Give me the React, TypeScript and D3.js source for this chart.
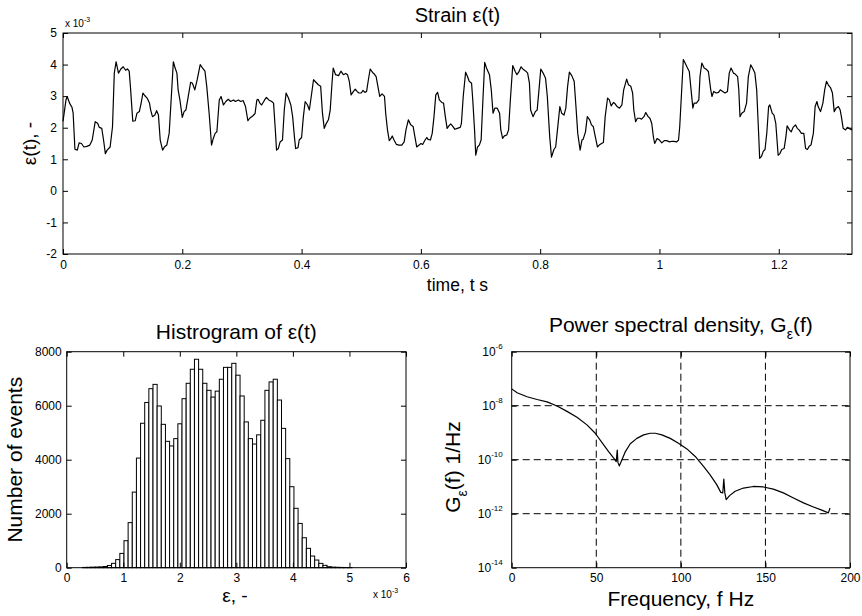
import React, { useEffect, useRef } from 'react';
import * as d3 from 'd3';

// strain signal, [time s, strain x 10^-3]
const strainSeries: [number, number][] = [
  [0, 2.20], [0.005, 2.88], [0.007, 2.99], [0.011, 2.78], [0.015, 2.65], [0.017, 2.46], [0.020, 1.32], [0.024, 1.29],
  [0.027, 1.52], [0.031, 1.50], [0.035, 1.39], [0.040, 1.41], [0.045, 1.45], [0.049, 1.61], [0.054, 2.19], [0.058, 2.14],
  [0.061, 2.01], [0.065, 1.98], [0.068, 1.61], [0.071, 1.18], [0.074, 1.29], [0.079, 1.39], [0.083, 2.03], [0.086, 3.73],
  [0.089, 4.09], [0.093, 3.73], [0.097, 3.86], [0.101, 3.93], [0.105, 3.82], [0.108, 3.86], [0.111, 3.79], [0.113, 3.31],
  [0.117, 2.21], [0.121, 2.22], [0.124, 2.46], [0.128, 2.51], [0.131, 2.78], [0.134, 3.10], [0.137, 3.02], [0.141, 2.94],
  [0.145, 2.78], [0.147, 2.56], [0.150, 2.35], [0.154, 2.40], [0.157, 2.54], [0.160, 2.40], [0.163, 1.61], [0.167, 1.29],
  [0.170, 1.39], [0.174, 1.45], [0.178, 1.82], [0.181, 2.78], [0.185, 4.09], [0.188, 3.89], [0.191, 3.73], [0.193, 3.20],
  [0.196, 2.88], [0.200, 2.33], [0.203, 2.51], [0.206, 2.56], [0.210, 2.99], [0.214, 3.44], [0.217, 3.41], [0.221, 3.20],
  [0.225, 3.52], [0.230, 4.00], [0.234, 3.89], [0.238, 3.79], [0.241, 3.31], [0.245, 2.46], [0.249, 1.45], [0.252, 1.66],
  [0.255, 1.82], [0.258, 1.87], [0.262, 2.88], [0.265, 2.99], [0.269, 2.72], [0.273, 2.83], [0.277, 2.90], [0.281, 2.83],
  [0.286, 2.88], [0.289, 2.83], [0.294, 2.88], [0.298, 2.83], [0.302, 2.86], [0.306, 2.67], [0.310, 2.22], [0.313, 2.30],
  [0.318, 2.37], [0.322, 2.45], [0.325, 2.88], [0.327, 2.90], [0.330, 2.78], [0.333, 2.72], [0.338, 2.88], [0.341, 2.96],
  [0.345, 2.88], [0.350, 2.83], [0.353, 2.78], [0.356, 1.93], [0.358, 1.29], [0.361, 1.34], [0.364, 1.55], [0.368, 1.61],
  [0.371, 2.56], [0.374, 3.10], [0.378, 2.94], [0.382, 2.72], [0.385, 2.35], [0.388, 1.71], [0.390, 1.34], [0.394, 1.37],
  [0.396, 1.61], [0.400, 1.69], [0.403, 2.35], [0.406, 2.83], [0.410, 2.72], [0.413, 2.56], [0.417, 3.10], [0.420, 3.52],
  [0.424, 3.44], [0.428, 3.36], [0.432, 3.31], [0.435, 2.46], [0.438, 1.98], [0.441, 2.12], [0.445, 2.25], [0.448, 2.56],
  [0.451, 3.41], [0.453, 3.89], [0.457, 3.68], [0.462, 3.65], [0.466, 3.79], [0.470, 3.68], [0.474, 3.72], [0.477, 3.68],
  [0.480, 3.47], [0.483, 3.04], [0.487, 3.15], [0.490, 3.22], [0.493, 3.15], [0.496, 3.10], [0.500, 3.10], [0.503, 3.18],
  [0.506, 3.12], [0.509, 3.15], [0.512, 3.52], [0.515, 3.86], [0.519, 3.75], [0.522, 3.70], [0.525, 3.62], [0.529, 3.20],
  [0.531, 2.99], [0.535, 3.07], [0.539, 2.99], [0.541, 2.46], [0.544, 1.93], [0.547, 1.59], [0.550, 1.66], [0.552, 1.74],
  [0.555, 1.61], [0.559, 1.47], [0.563, 1.45], [0.568, 1.45], [0.572, 1.55], [0.575, 1.93], [0.579, 2.25], [0.583, 2.09],
  [0.587, 2.04], [0.590, 1.71], [0.593, 1.39], [0.597, 1.45], [0.600, 1.50], [0.603, 1.47], [0.607, 1.61], [0.610, 1.69],
  [0.612, 1.63], [0.616, 1.61], [0.619, 1.82], [0.622, 2.35], [0.625, 3.04], [0.628, 3.12], [0.631, 2.88], [0.635, 2.80],
  [0.638, 2.78], [0.641, 2.35], [0.644, 1.98], [0.647, 2.06], [0.650, 2.12], [0.653, 2.06], [0.657, 1.95], [0.661, 1.98],
  [0.666, 2.01], [0.668, 2.14], [0.671, 2.99], [0.675, 3.76], [0.678, 3.63], [0.681, 3.47], [0.685, 3.41], [0.687, 2.88],
  [0.690, 1.93], [0.692, 1.13], [0.695, 1.39], [0.698, 1.45], [0.701, 1.61], [0.704, 2.88], [0.707, 4.07], [0.710, 3.89],
  [0.715, 3.68], [0.718, 3.20], [0.721, 2.46], [0.724, 2.62], [0.728, 2.62], [0.732, 2.46], [0.734, 1.93], [0.737, 1.66],
  [0.740, 1.74], [0.744, 1.77], [0.747, 1.93], [0.750, 2.88], [0.754, 3.97], [0.758, 3.79], [0.761, 3.68], [0.764, 3.76],
  [0.768, 3.93], [0.772, 3.84], [0.776, 3.79], [0.779, 3.73], [0.782, 3.41], [0.784, 2.56], [0.788, 2.35], [0.792, 2.51],
  [0.795, 2.56], [0.798, 3.20], [0.801, 3.86], [0.805, 3.73], [0.809, 3.57], [0.812, 2.99], [0.816, 1.71], [0.819, 1.07],
  [0.823, 1.31], [0.826, 1.39], [0.829, 1.93], [0.833, 2.67], [0.836, 2.46], [0.840, 2.40], [0.843, 2.62], [0.846, 3.31],
  [0.849, 3.76], [0.853, 3.65], [0.857, 3.47], [0.860, 2.67], [0.863, 1.82], [0.867, 1.29], [0.870, 1.61], [0.872, 1.63],
  [0.876, 1.87], [0.879, 2.35], [0.883, 2.25], [0.886, 2.09], [0.889, 2.04], [0.893, 1.66], [0.896, 1.39], [0.899, 1.45],
  [0.903, 1.50], [0.906, 1.53], [0.909, 2.35], [0.913, 2.94], [0.916, 2.88], [0.919, 2.69], [0.923, 2.80], [0.926, 2.75],
  [0.929, 2.67], [0.933, 2.62], [0.937, 2.72], [0.940, 3.20], [0.945, 3.54], [0.948, 3.36], [0.952, 3.31], [0.955, 3.10],
  [0.957, 2.56], [0.960, 2.19], [0.963, 2.30], [0.967, 2.30], [0.970, 2.27], [0.974, 2.35], [0.977, 2.48], [0.981, 2.35],
  [0.984, 2.30], [0.987, 2.14], [0.990, 1.69], [0.992, 1.50], [0.996, 1.66], [1.000, 1.61], [1.004, 1.52], [1.008, 1.59],
  [1.012, 1.59], [1.017, 1.55], [1.021, 1.57], [1.024, 1.57], [1.029, 1.55], [1.032, 1.61], [1.034, 2.04], [1.037, 3.10],
  [1.040, 4.16], [1.043, 4.05], [1.047, 3.89], [1.050, 3.78], [1.053, 3.20], [1.056, 2.62], [1.058, 2.78], [1.062, 2.78],
  [1.066, 2.88], [1.068, 3.63], [1.071, 4.05], [1.075, 3.89], [1.079, 3.84], [1.082, 3.78], [1.086, 3.20], [1.088, 2.99],
  [1.091, 3.15], [1.095, 3.10], [1.099, 3.12], [1.102, 3.20], [1.106, 3.15], [1.110, 3.10], [1.114, 3.15], [1.117, 3.73],
  [1.120, 3.89], [1.124, 3.73], [1.127, 3.70], [1.131, 3.62], [1.133, 3.20], [1.135, 2.35], [1.138, 2.46], [1.142, 2.51],
  [1.146, 2.78], [1.149, 3.62], [1.153, 3.99], [1.156, 3.89], [1.160, 3.73], [1.163, 3.20], [1.166, 1.93], [1.168, 1.03],
  [1.171, 1.09], [1.174, 1.25], [1.177, 1.31], [1.180, 1.84], [1.183, 2.67], [1.185, 2.72], [1.189, 2.46], [1.192, 2.40],
  [1.195, 2.14], [1.199, 1.13], [1.202, 1.18], [1.205, 1.31], [1.209, 1.34], [1.212, 1.71], [1.214, 2.06], [1.218, 1.93],
  [1.221, 1.87], [1.224, 2.01], [1.228, 2.09], [1.231, 1.98], [1.234, 1.93], [1.238, 1.82], [1.242, 1.82], [1.245, 1.34],
  [1.248, 1.31], [1.251, 1.41], [1.254, 1.45], [1.258, 1.82], [1.261, 2.67], [1.264, 2.83], [1.266, 2.67], [1.270, 2.51],
  [1.274, 2.78], [1.277, 3.20], [1.280, 3.47], [1.283, 3.36], [1.287, 3.26], [1.290, 3.10], [1.293, 2.51], [1.296, 2.62],
  [1.300, 2.67], [1.303, 2.56], [1.305, 2.35], [1.308, 1.98], [1.312, 1.93], [1.315, 2.01], [1.318, 1.98], [1.3228, 1.93],
];
const strainTimeMax = 1.3228;
const strainTicksX = [0, 0.2, 0.4, 0.6, 0.8, 1, 1.2];
const strainTicksY = [-2, -1, 0, 1, 2, 3, 4, 5];

// histogram, bins in units of 10^-3
const histStart = 0.28;
const histBinWidth = 0.0733;
const histCounts = [
  10, 15, 20, 25, 30, 45, 80, 160, 300, 530, 1000, 1670, 2800, 4060, 5350, 6120,
  6630, 6790, 5990, 5310, 4680, 4510, 4780, 5330, 6260, 6830, 7350, 7720, 7350, 6830, 6570, 6320,
  6540, 6980, 7420, 7420, 7570, 7130, 6360, 5400, 4780, 4580, 4920, 5460, 6570, 6880, 6980, 6210,
  5160, 4040, 3000, 2200, 1640, 1110, 716, 432, 284, 160, 86, 37, 20, 15, 10, 8, 5,
];
const histTicksX = [0, 1, 2, 3, 4, 5, 6];
const histTicksY = [0, 2000, 4000, 6000, 8000];

// power spectral density
const psdFreq = [
  0, 3.2, 9.1, 15.0, 20.9, 26.8, 32.7, 38.6, 44.5, 49.4, 53.4, 57.3, 60.3, 61.8, 62.4, 62.8, 63.6, 65.2, 67.2,
  70.1, 74.0, 78.0, 81.9, 84.9, 88.8, 93.7, 98.6, 103.6, 108.5, 113.4, 117.3, 121.3, 123.6, 124.8, 125.4, 126.0,
  126.8, 128.8, 132.1, 137.0, 142.9, 148.8, 154.7, 160.6, 166.6, 172.5, 178.4, 183.3, 187.2, 188.2,
];
const psdValue = [
  4.2e-8, 3.02e-8, 2.14e-8, 1.70e-8, 1.38e-8, 9.77e-9, 6.17e-9, 3.72e-9, 1.95e-9, 9.55e-10, 4.27e-10, 2.00e-10,
  1.15e-10, 8.51e-11, 2.29e-10, 7.94e-11, 5.89e-11, 1.00e-10, 2.00e-10, 3.89e-10, 6.17e-10, 8.32e-10, 9.55e-10,
  9.55e-10, 8.32e-10, 6.17e-10, 4.07e-10, 2.51e-10, 1.32e-10, 5.62e-11, 2.75e-11, 1.17e-11, 6.17e-12, 5.89e-12,
  1.91e-11, 5.89e-12, 3.31e-12, 4.68e-12, 6.76e-12, 8.91e-12, 1.02e-11, 9.77e-12, 8.13e-12, 5.89e-12, 3.80e-12,
  2.51e-12, 1.78e-12, 1.35e-12, 1.07e-12, 1.62e-12,
];
const psdTicksX = [0, 50, 100, 150, 200];
const psdTicksExp = [-6, -8, -10, -12, -14];

const FONT = '"Liberation Sans", Arial, Helvetica, sans-serif';

// MATLAB-like box with inward ticks on all four sides
function drawFrame(g, x, y, xTicks, yTicks, yScaleTicks, box, opts) {
  const { left, right, top, bottom } = box;

  g.append('g')
    .attr('transform', `translate(0,${bottom})`)
    .call(d3.axisBottom(x).tickValues(xTicks).tickSize(-5).tickPadding(6).tickFormat(opts.xFormat))
    .call(s => s.select('.domain').remove());
  g.append('g')
    .attr('transform', `translate(0,${top})`)
    .call(d3.axisTop(x).tickValues(xTicks).tickSize(-5).tickFormat(() => ''))
    .call(s => s.select('.domain').remove());
  g.append('g')
    .attr('transform', `translate(${left},0)`)
    .call(d3.axisLeft(y).tickValues(yScaleTicks).tickSize(-5).tickPadding(opts.yPad).tickFormat(opts.yFormat))
    .call(s => s.select('.domain').remove());
  g.append('g')
    .attr('transform', `translate(${right},0)`)
    .call(d3.axisRight(y).tickValues(yScaleTicks).tickSize(-5).tickFormat(() => ''))
    .call(s => s.select('.domain').remove());

  g.selectAll('.tick line').attr('stroke', '#000');
  g.selectAll('.tick text')
    .attr('fill', '#000')
    .attr('font-family', FONT)
    .attr('font-size', 12);

  g.append('rect')
    .attr('x', left).attr('y', top)
    .attr('width', right - left).attr('height', bottom - top)
    .attr('fill', 'none').attr('stroke', '#000').attr('stroke-width', 1);
}

const App = () => {
  const svgRef = useRef(null);

  useEffect(() => {
    const width = 862;
    const height = 616;
    const svg = d3.select(svgRef.current);
    svg.selectAll('*').remove();
    svg.attr('width', width).attr('height', height)
      .attr('font-family', FONT);

    svg.append('rect').attr('width', width).attr('height', height).attr('fill', '#fff');

    // ---------- Strain time history ----------
    const b1 = { left: 63, right: 852, top: 33, bottom: 254 };
    const x1 = d3.scaleLinear().domain([0, strainTimeMax]).range([b1.left, b1.right]);
    const y1 = d3.scaleLinear().domain([-2, 5]).range([b1.bottom, b1.top]);
    const g1 = svg.append('g');

    g1.append('path')
      .datum(strainSeries)
      .attr('fill', 'none')
      .attr('stroke', '#000')
      .attr('stroke-width', 1.2)
      .attr('stroke-linejoin', 'round')
      .attr('d', d3.line().x(d => x1(d[0])).y(d => y1(d[1])));

    drawFrame(g1, x1, y1, strainTicksX, strainTicksY, strainTicksY, b1, {
      xFormat: d => String(d), yFormat: d => String(d), yPad: 6,
    });

    const exp1 = g1.append('text').attr('x', 65).attr('y', 27).attr('font-size', 10).attr('fill', '#000');
    exp1.append('tspan').text('x 10');
    exp1.append('tspan').attr('font-size', 7).attr('dy', -5).text('-3');

    g1.append('text').attr('x', (b1.left + b1.right) / 2).attr('y', 22)
      .attr('text-anchor', 'middle').attr('font-size', 20).text('Strain ε(t)');
    g1.append('text').attr('x', (b1.left + b1.right) / 2).attr('y', 290.5)
      .attr('text-anchor', 'middle').attr('font-size', 17.5).text('time, t s');
    g1.append('text').attr('transform', `translate(36,${(b1.top + b1.bottom) / 2}) rotate(-90)`)
      .attr('text-anchor', 'middle').attr('font-size', 19).text('ε(t), -');

    // ---------- Histogram ----------
    const b2 = { left: 66.7, right: 406, top: 351.7, bottom: 567.7 };
    const x2 = d3.scaleLinear().domain([0, 6]).range([b2.left, b2.right]);
    const y2 = d3.scaleLinear().domain([0, 8000]).range([b2.bottom, b2.top]);
    const g2 = svg.append('g');

    g2.selectAll('rect.bar')
      .data(histCounts)
      .join('rect')
      .attr('class', 'bar')
      .attr('x', (d, i) => x2(histStart + i * histBinWidth))
      .attr('width', (d, i) => x2(histStart + (i + 1) * histBinWidth) - x2(histStart + i * histBinWidth))
      .attr('y', d => y2(d))
      .attr('height', d => y2(0) - y2(d))
      .attr('fill', '#fff')
      .attr('stroke', '#000')
      .attr('stroke-width', 1);

    drawFrame(g2, x2, y2, histTicksX, histTicksY, histTicksY, b2, {
      xFormat: d => String(d), yFormat: d => String(d), yPad: 5,
    });

    g2.append('text').attr('x', (b2.left + b2.right) / 2).attr('y', 339)
      .attr('text-anchor', 'middle').attr('font-size', 21).text('Histrogram of ε(t)');
    g2.append('text').attr('transform', `translate(22,${(b2.top + b2.bottom) / 2}) rotate(-90)`)
      .attr('text-anchor', 'middle').attr('font-size', 21).text('Number of events');
    g2.append('text').attr('x', 235).attr('y', 601.5)
      .attr('text-anchor', 'middle').attr('font-size', 19).text('ε, -');
    const exp2 = g2.append('text').attr('x', 373).attr('y', 598).attr('font-size', 10).attr('fill', '#000');
    exp2.append('tspan').text('x 10');
    exp2.append('tspan').attr('font-size', 7).attr('dy', -5).text('-3');

    // ---------- Power spectral density ----------
    const b3 = { left: 511.7, right: 850, top: 351.7, bottom: 567.7 };
    const x3 = d3.scaleLinear().domain([0, 200]).range([b3.left, b3.right]);
    const y3 = d3.scaleLog().domain([1e-14, 1e-6]).range([b3.bottom, b3.top]);
    const g3 = svg.append('g');
    const psdTicksY = psdTicksExp.map(e => Math.pow(10, e));

    // dashed grid
    g3.selectAll('line.vgrid')
      .data(psdTicksX.slice(1, -1))
      .join('line')
      .attr('x1', d => x3(d)).attr('x2', d => x3(d))
      .attr('y1', b3.top).attr('y2', b3.bottom)
      .attr('stroke', '#000').attr('stroke-dasharray', '7,4');
    g3.selectAll('line.hgrid')
      .data(psdTicksY.slice(1, -1))
      .join('line')
      .attr('x1', b3.left).attr('x2', b3.right)
      .attr('y1', d => y3(d)).attr('y2', d => y3(d))
      .attr('stroke', '#000').attr('stroke-dasharray', '7,4');

    g3.append('path')
      .datum(psdFreq.map((f, i) => [f, psdValue[i]]))
      .attr('fill', 'none')
      .attr('stroke', '#000')
      .attr('stroke-width', 1.2)
      .attr('stroke-linejoin', 'round')
      .attr('d', d3.line().x(d => x3(d[0])).y(d => y3(d[1])));

    drawFrame(g3, x3, y3, psdTicksX, psdTicksY, psdTicksY, b3, {
      xFormat: d => String(d), yFormat: () => '', yPad: 9,
    });

    // 10^n labels
    psdTicksExp.forEach(e => {
      const t = g3.append('text')
        .attr('x', b3.left - 9).attr('y', y3(Math.pow(10, e)) + 4.5)
        .attr('text-anchor', 'end').attr('font-size', 12).attr('fill', '#000');
      t.append('tspan').text('10');
      t.append('tspan').attr('font-size', 8).attr('dy', -7).text(String(e));
    });

    const t3 = g3.append('text').attr('x', (b3.left + b3.right) / 2).attr('y', 332)
      .attr('text-anchor', 'middle').attr('font-size', 21);
    t3.append('tspan').text('Power spectral density, G');
    t3.append('tspan').attr('font-size', 14).attr('dy', 7).text('ε');
    t3.append('tspan').attr('dy', -7).text('(f)');

    const yl3 = g3.append('text').attr('transform', `translate(460,467) rotate(-90)`)
      .attr('text-anchor', 'middle').attr('font-size', 21);
    yl3.append('tspan').text('G');
    yl3.append('tspan').attr('font-size', 14).attr('dy', 7).text('ε');
    yl3.append('tspan').attr('dy', -7).text('(f) 1/Hz');

    g3.append('text').attr('x', (b3.left + b3.right) / 2).attr('y', 606)
      .attr('text-anchor', 'middle').attr('font-size', 21).text('Frequency, f Hz');
  }, []);

  return (
    <svg ref={svgRef} style={{ position: 'absolute', left: 0, top: 0, display: 'block' }}></svg>
  );
};

export default App;
